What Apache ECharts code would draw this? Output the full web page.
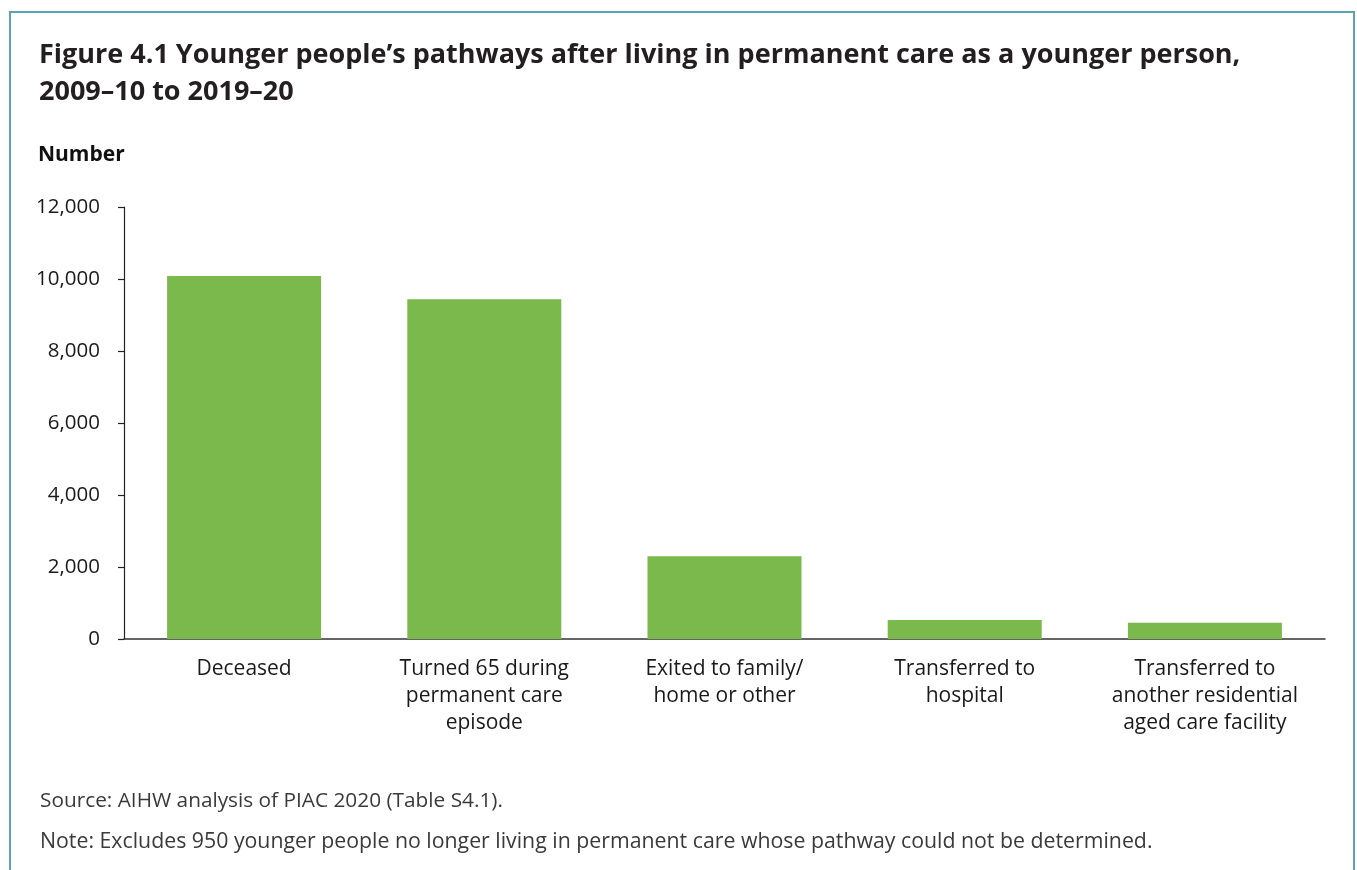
<!DOCTYPE html>
<html>
<head>
<meta charset="utf-8">
<script src="https://cdn.jsdelivr.net/npm/echarts@6/dist/echarts.min.js"></script>
<style>
  html, body { margin: 0; padding: 0; background: #ffffff; }
  #chart { width: 1357px; height: 870px; }
</style>
</head>
<body>
<div id="chart"></div>
<script>
// Pathways of younger people after permanent care, 2009–10 to 2019–20
const categories = [
  'Deceased',
  'Turned 65 during\npermanent care\nepisode',
  'Exited to family/\nhome or other',
  'Transferred to\nhospital',
  'Transferred to\nanother residential\naged care facility'
];
const counts = [10080, 9440, 2300, 530, 450];
const yTicks = { min: 0, max: 12000, interval: 2000 };

const titleText = 'Figure 4.1 Younger people\u2019s pathways after living in permanent care as a younger person,\n2009\u201310 to 2019\u201320';
const sourceText = 'Source: AIHW analysis of PIAC 2020 (Table S4.1).';
const noteText = 'Note: Excludes 950 younger people no longer living in permanent care whose pathway could not be determined.';

const FONT = '"Open Sans", "Noto Sans", sans-serif';
const chart = echarts.init(document.getElementById('chart'), null, { renderer: 'canvas' });

chart.setOption({
  animation: false,
  backgroundColor: '#ffffff',
  textStyle: { fontFamily: FONT },
  title: {
    text: titleText,
    left: 34,
    top: 32,
    textStyle: {
      fontFamily: FONT,
      fontSize: 27,
      fontWeight: 'bold',
      color: '#231f20',
      lineHeight: 37
    }
  },
  grid: { left: 124, right: 32, top: 207, bottom: 231, containLabel: false },
  xAxis: {
    type: 'category',
    data: categories,
    axisLine: { show: true, lineStyle: { color: '#333333', width: 1.5 } },
    axisTick: { show: false },
    axisLabel: {
      interval: 0,
      margin: 17,
      fontFamily: FONT,
      fontSize: 21,
      color: '#1a1a1a',
      lineHeight: 27,
      align: 'center'
    }
  },
  yAxis: {
    type: 'value',
    min: yTicks.min,
    max: yTicks.max,
    interval: yTicks.interval,
    name: 'Number',
    nameLocation: 'end',
    nameGap: 0,
    nameTextStyle: {
      fontFamily: FONT,
      fontSize: 21,
      fontWeight: 'bold',
      color: '#111111',
      align: 'left',
      verticalAlign: 'bottom',
      padding: [0, 0, 41, -86]
    },
    axisLine: { show: true, lineStyle: { color: '#222222', width: 1.2 } },
    axisTick: { show: true, length: 6, lineStyle: { color: '#222222', width: 1.2 } },
    splitLine: { show: false },
    axisLabel: {
      margin: 24,
      fontFamily: FONT,
      fontSize: 20.5,
      color: '#1a1a1a',
      formatter: v => v.toLocaleString('en-US')
    }
  },
  series: [{
    type: 'bar',
    data: counts,
    barWidth: 154,
    itemStyle: { color: '#7cb94d' }
  }],
  graphic: [
    {
      type: 'rect',
      shape: { x: 10, y: 12, width: 1344, height: 900 },
      style: { fill: 'none', stroke: '#5ba4b6', lineWidth: 2 },
      silent: true,
      z: 10
    },
    {
      type: 'text',
      left: 40,
      top: 791,
      style: { text: sourceText, fontFamily: FONT, fontSize: 20.8, fill: '#3a3a3a' }
    },
    {
      type: 'text',
      left: 40,
      top: 831,
      style: { text: noteText, fontFamily: FONT, fontSize: 21.3, fill: '#3a3a3a' }
    }
  ]
});
</script>
</body>
</html>
